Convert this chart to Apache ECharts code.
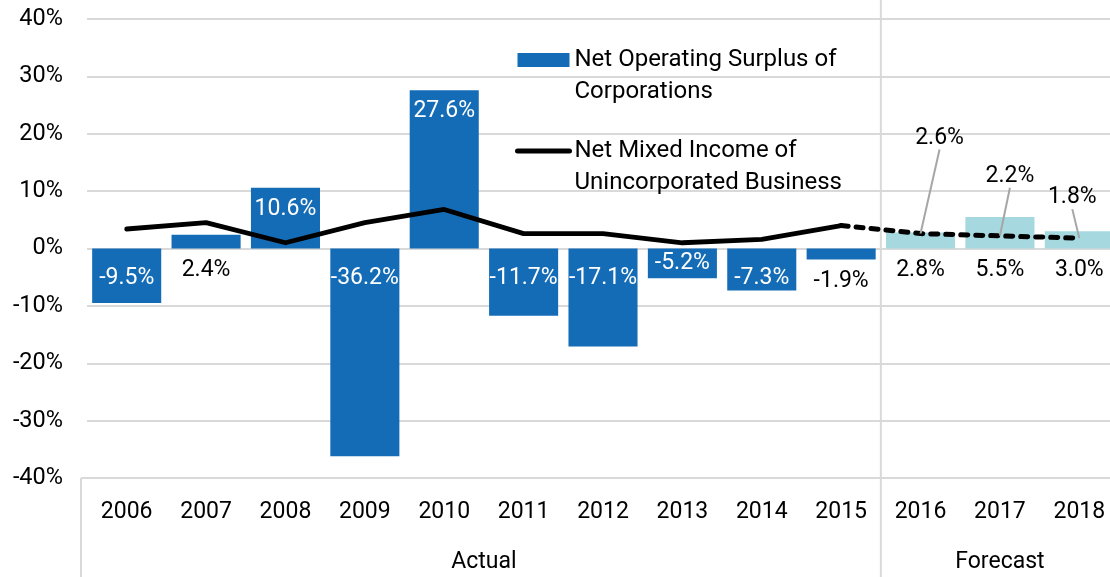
<!DOCTYPE html>
<html>
<head>
<meta charset="utf-8">
<script src="https://cdn.jsdelivr.net/npm/echarts@6/dist/echarts.min.js"></script>
<style>
  html, body { margin: 0; padding: 0; background: #fff; }
  #chart { width: 1110px; height: 577px; }
</style>
</head>
<body>
<div id="chart"></div>
<script>
var years = ['2006', '2007', '2008', '2009', '2010', '2011', '2012', '2013', '2014', '2015', '2016', '2017', '2018'];
var corpSurplus = [-9.5, 2.4, 10.6, -36.2, 27.6, -11.7, -17.1, -5.2, -7.3, -1.9, 2.8, 5.5, 3.0];
var mixedIncome = [3.4, 4.5, 1.0, 4.5, 6.8, 2.6, 2.6, 1.0, 1.6, 4.0, 2.6, 2.2, 1.8];
var groupNames = ['Actual', 'Forecast'];
var groupSizes = [10, 3];

var forecastStart = groupSizes[0];
var FONT = 'Roboto';
var BAR_NAME = 'Net Operating Surplus of Corporations';
var LINE_NAME = 'Net Mixed Income of Unincorporated Business';

function pct(v) { return v.toFixed(1) + '%'; }

// bar labels: white inside for the big ones, black below for small/forecast
var barData = corpSurplus.map(function (v, i) {
    var forecast = i >= forecastStart;
    var label;
    if (forecast || Math.abs(v) < 3) {
        label = { position: 'bottom', distance: 10, color: '#000' };
    } else if (v > 0) {
        label = { position: 'insideTop', distance: 10, color: '#fff' };
    } else {
        label = { position: 'insideTop', distance: v < -7 ? 18 : 3, color: '#fff' };
    }
    return {
        value: v,
        itemStyle: { color: forecast ? '#a6d8df' : '#156cb6' },
        label: label
    };
});

var solidData = mixedIncome.map(function (v, i) { return i < forecastStart ? v : '-'; });
var dashedData = mixedIncome.map(function (v, i) {
    if (i < forecastStart - 1) return '-';
    return { value: v, label: { show: i >= forecastStart } };
});

// where the forecast labels get pushed to
var labelShift = { 10: [19, -79], 11: [10, -43], 12: [-7, -24] };

var chart = echarts.init(document.getElementById('chart'));

var option = {
    animation: false,
    textStyle: { fontFamily: FONT },
    grid: { left: 87, top: 19, width: 1032, bottom: 99, containLabel: false, outerBoundsMode: 'none' },
    legend: {
        orient: 'vertical',
        left: 515,
        top: 12,
        padding: 0,
        itemWidth: 52,
        itemHeight: 14,
        itemGap: -5,
        data: [
            { name: BAR_NAME, icon: 'rect' },
            { name: LINE_NAME, itemStyle: { opacity: 0 }, lineStyle: { width: 5, cap: 'round' } }
        ],
        // blank first line keeps the first text line level with the icon
        formatter: function (name) { return '\u00a0\n' + name.replace(' of ', ' of\n'); },
        textStyle: {
            fontFamily: FONT,
            fontSize: 24,
            lineHeight: 32,
            color: '#000'
        }
    },
    xAxis: {
        type: 'category',
        data: years,
        axisLine: { show: false, onZero: false },
        axisTick: { show: false },
        axisLabel: { color: '#000', fontSize: 23, fontFamily: FONT, margin: 23 }
    },
    yAxis: {
        type: 'value',
        min: -40,
        max: 40,
        interval: 10,
        axisLine: { show: false },
        axisTick: { show: false },
        axisLabel: { formatter: '{value}%', color: '#000', fontSize: 23.5, fontFamily: FONT, margin: 24 },
        splitLine: { lineStyle: { color: '#d9d9d9', width: 2 } }
    },
    series: [
        {
            name: BAR_NAME,
            type: 'bar',
            barCategoryGap: '13%',
            data: barData,
            itemStyle: { color: '#156cb6' },
            label: {
                show: true,
                fontFamily: FONT,
                fontSize: 23,
                formatter: function (p) { return pct(p.value); }
            },
            z: 2
        },
        {
            name: LINE_NAME,
            type: 'line',
            data: solidData,
            symbol: 'none',
            lineStyle: { color: '#000', width: 4.8, cap: 'round', join: 'round' },
            itemStyle: { color: '#000' },
            z: 3
        },
        {
            name: 'forecast',
            type: 'line',
            data: dashedData,
            symbol: 'circle',
            symbolSize: 0.1,
            showSymbol: true,
            showAllSymbol: true,
            lineStyle: { color: '#000', width: 5, type: [7, 8], cap: 'round' },
            itemStyle: { color: '#000' },
            label: {
                show: false,
                position: 'top',
                fontFamily: FONT,
                fontSize: 23,
                color: '#000',
                formatter: function (p) { return pct(p.value); }
            },
            labelLine: { show: true, lineStyle: { color: '#a6a6a6', width: 2 } },
            labelLayout: function (p) {
                var s = labelShift[p.dataIndex];
                return s ? { dx: s[0], dy: s[1] } : {};
            },
            z: 4
        }
    ]
};

chart.setOption(option);

// group box under the axis: Actual / Forecast
function drawGroups() {
    var c0 = chart.convertToPixel({ xAxisIndex: 0 }, 0);
    var c1 = chart.convertToPixel({ xAxisIndex: 0 }, 1);
    var step = c1 - c0;
    var left = c0 - step / 2;
    var yBottom = chart.convertToPixel({ yAxisIndex: 0 }, -40);
    var lineStyle = { stroke: '#d9d9d9', lineWidth: 2 };
    var els = [
        { type: 'line', shape: { x1: left - 6, y1: yBottom, x2: left, y2: yBottom }, style: lineStyle },
        { type: 'line', shape: { x1: left - 6, y1: yBottom, x2: left - 6, y2: 577 }, style: lineStyle }
    ];
    var start = 0;
    groupNames.forEach(function (g, k) {
        var a = left + start * step;
        var b = left + (start + groupSizes[k]) * step;
        els.push({
            type: 'text',
            x: (a + b) / 2,
            y: 562,
            style: { text: g, fill: '#000', font: '23px ' + FONT, align: 'center', verticalAlign: 'middle' }
        });
        if (k > 0) {
            els.push({ type: 'line', shape: { x1: a, y1: 0, x2: a, y2: 577 }, style: lineStyle, z: 1 });
        }
        start += groupSizes[k];
    });
    chart.setOption({ graphic: els });
}
drawGroups();

window.onresize = chart.resize;
</script>
</body>
</html>
